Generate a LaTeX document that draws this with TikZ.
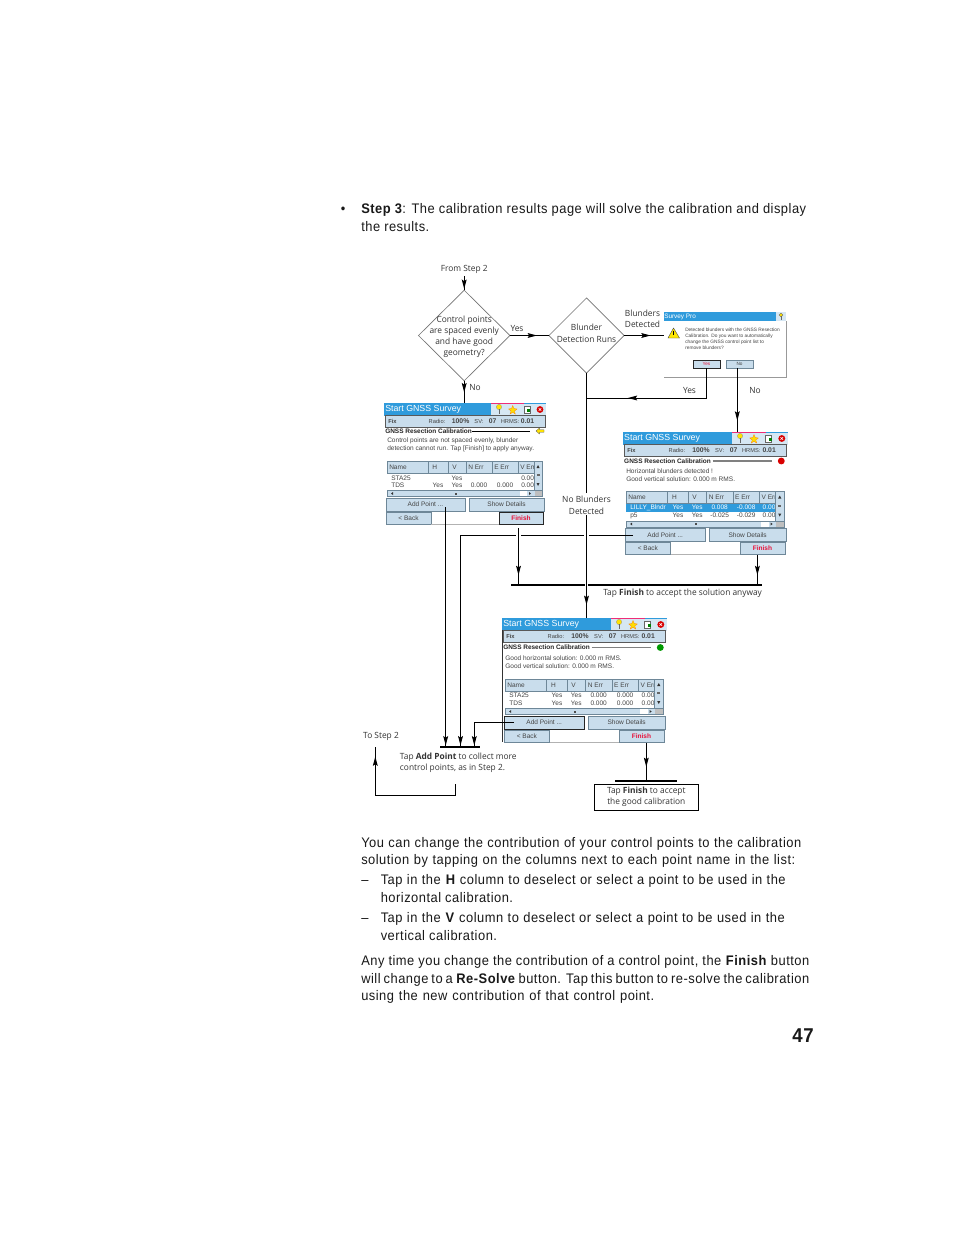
\documentclass[tikz,border=0pt]{standalone}
\usepackage{fontspec}
\setmainfont{Liberation Sans}
\newfontfamily\bodyfam[FakeStretch=0.93,LetterSpace=3.6]{Liberation Sans}
\newfontfamily\diagfam[FakeStretch=0.98]{Open Sans}
\usetikzlibrary{arrows.meta,decorations.markings,shapes.geometric,fit,calc}
\definecolor{tbar}{HTML}{2F9BDC}
\definecolor{tlight}{HTML}{D6E7F3}
\definecolor{btn}{HTML}{C9DDEC}
\definecolor{btnedge}{HTML}{6E8798}
\definecolor{txtg}{HTML}{444444}
\definecolor{finred}{HTML}{E8123A}
\newcommand{\bodyfont}{\bodyfam\fontsize{10.4}{12}\selectfont}
\newcommand{\diagfont}{\diagfam\fontsize{6.4}{8.3}\selectfont}
\newcommand{\scrfont}{\fontsize{4.9}{5.5}\selectfont}
\newcommand{\stfont}{\fontsize{4.3}{5}\selectfont}
\newcommand{\stbold}{\bfseries\fontsize{5.1}{6}\selectfont}
\newcommand{\jline}[2]{\hbox to #1pt{\spaceskip=.3em plus .3em minus .2em\relax #2}}
\tikzset{
  bodyt/.style={anchor=base west,inner sep=0,font=\bodyfont,text=black!90,yshift=-.5pt},
  diagt/.style={inner sep=0,font=\diagfont,text=black!80,align=center,yshift=-.4pt},
  scrt/.style={inner sep=0,font=\scrfont,text=txtg},
  scrl/.style={scrt,anchor=west},
  hdrt/.style={scrl,font=\bfseries\fontsize{4.85}{5.5}\selectfont,text=black!85},
  flow/.style={draw=black,line width=.75pt},
  headat/.style={postaction={decorate},decoration={markings,mark=at position #1 with {\arrow{Stealth[length=7pt,width=3.6pt,inset=1.2pt]}}}},
  halo/.style={preaction={draw=white,line width=4pt}},
  bar/.style={draw=black,line width=1.5pt},
  dia/.style={diamond,draw=black!55,line width=.5pt,inner sep=0,outer sep=0},
  btnbox/.style={draw=btnedge,fill=btn,line width=.5pt,inner sep=0,outer sep=0},
  scrbox/.style={fill=white,inner sep=0,outer sep=0},
  thickedge/.style={draw=black!85,line width=.7pt},
}
\newcommand{\pin}[2]{\fill[yellow!85!orange,draw=black!50,line width=.15pt] (#1,#2-2.5) circle (2pt); \draw[black!60,line width=.5pt] (#1,#2-.5) -- (#1,#2+4.5);}
\newcommand{\gnssscreen}[5]{%
\begin{scope}[shift={(#2,#3)}]
  \node[scrbox,fit={(0,0) (162,#4+63)}] (#1) {};
  \fill[tbar] (0,0) rectangle (162,12.5);
  \fill[tlight] (107,0.8) rectangle (162,12.5);
  \draw[magenta!70!orange,line width=.6pt] (107,0.3) -- (140,0.3);
  \node[scrt,anchor=west,text=white,font=\fontsize{6.6}{8}\selectfont] at (1,6.6) {Start GNSS Survey};
  \pin{115}{6.5}
  \fill[yellow!80!orange,draw=orange,line width=.2pt] (128.7,2.5) -- (130,5.5) -- (133,6) -- (130.5,8) -- (131.3,11) -- (128.7,9.3) -- (126,11) -- (127,8) -- (124.5,6) -- (127.5,5.5) -- cycle;
  \draw[black!60,fill=white,line width=.3pt] (140,3) rectangle (146,10);
  \fill[green!50!black] (143,6) rectangle (146,9);
  \fill[red!85!black] (156,6.5) circle (3.4);
  \draw[white,line width=.4pt] (154.7,5.2) -- (157.3,7.8) (154.7,7.8) -- (157.3,5.2);
  \node[fill=btn,draw=black!65,line width=.6pt,inner sep=0,outer sep=0,fit={(1,12.8) (161,24)}] (#1status) {};
  \node[scrl,font=\bfseries\stfont] at (4,18.4) {Fix};
  \node[scrt,font=\stfont] at (53,18.4) {Radio:};
  \node[scrt,font=\stbold] at (76.6,18.4) {100\%};
  \node[scrt,font=\stfont] at (95,18.4) {SV:};
  \node[scrt,font=\stbold] at (108.7,18.4) {07};
  \node[scrt,font=\stfont] at (126,18.4) {HRMS:};
  \node[scrt,font=\stbold] at (143.6,18.4) {0.01};
  % table
  \fill[white] (3,#4) rectangle (158,#4+35);
  \foreach \a/\b in {3/44,44/64,64/82,82/108,108/134,134/150}
    \draw[fill=btn,draw=btnedge,line width=.4pt] (\a,#4) rectangle (\b,#4+12);
  \node[scrl] at (5,#4+6) {Name};
  \node[scrl] at (48,#4+6) {H};
  \node[scrl] at (68,#4+6) {V};
  \node[scrl] at (84,#4+6) {N Err};
  \node[scrl] at (110,#4+6) {E Err};
  \node[scrl] at (136,#4+6) {V Err};
  #5
  % scroll bars
  \draw[fill=btn,draw=btnedge,line width=.3pt] (150,#4) rectangle (158,#4+29.5);
  \draw[fill=btn,draw=btnedge,line width=.3pt] (3,#4+29.5) rectangle (158,#4+35.5);
  \fill[white] (136,#4+30) rectangle (143,#4+35);
  \fill[black!25] (150.5,#4+30) rectangle (158,#4+35);
  \fill[black!70] (71,#4+31.5) rectangle (73,#4+33.5);
  \fill[black!80] (154,#4+4) -- (152.5,#4+7) -- (155.5,#4+7) -- cycle;
  \fill[black!60] (152.5,#4+13) rectangle (155.5,#4+15);
  \fill[black!80] (154,#4+25) -- (152.5,#4+22) -- (155.5,#4+22) -- cycle;
  \fill[black!80] (7,#4+32.5) -- (9,#4+31) -- (9,#4+34) -- cycle;
  \fill[black!80] (147,#4+32.5) -- (145,#4+31) -- (145,#4+34) -- cycle;
  % buttons
  \node[btnbox,fit={(2,#4+37) (81,#4+50)}] (#1add) {};
  \node[scrt] at (#1add) {Add Point ...};
  \node[btnbox,fit={(85,#4+37) (160,#4+50)}] (#1show) {};
  \node[scrt] at (#1show) {Show Details};
  \node[btnbox,fit={(2,#4+51) (47,#4+63)}] (#1back) {};
  \node[scrt] at (#1back) {< Back};
  \node[btnbox,fit={(115,#4+51) (159,#4+63)}] (#1finish) {};
  \node[scrt,text=finred,font=\bfseries\scrfont] at (#1finish) {Finish};
  \draw[black!30,line width=.3pt] (47,#4+63) -- (115,#4+63);
\end{scope}}
\begin{document}
\begin{tikzpicture}[x=.75pt,y=-.75pt]
\useasboundingbox (0,0) rectangle (954,1235);
\fill[white] (0,0) rectangle (954,1235);
% body text above
\node[bodyt] (bu) at (340.5,212.5) {\textbullet};
\node[bodyt] (t1) at (361,212.5) {\jline{333.7}{\textbf{Step 3}: The calibration results page will solve the calibration and display}};
\node[bodyt] (t2) at (361,230.5) {the results.};

% screens
\begin{scope}[x=.75pt]
\gnssscreen{sa}{384}{403}{58}{%
  \node[hdrt] at (1,28) {GNSS Resection Calibration};
  \draw[black,line width=.5pt] (88,28) -- (146,28);
  \fill[yellow!85!orange,draw=black!70,line width=.2pt] (152,28) -- (155.5,25) -- (155.5,26.8) -- (160,26.8) -- (160,29.2) -- (155.5,29.2) -- (155.5,31) -- cycle;
  \node[scrl] at (3,37.5) {Control points are not spaced evenly, blunder};
  \node[scrl] at (3,46) {detection cannot run. Tap [Finish] to apply anyway.};
  \node[scrl] at (7,58+17) {STA25};
  \node[scrt] at (73,58+17) {Yes};
  \node[scrl] at (137,58+17) {0.00};
  \node[scrl] at (7,58+24.5) {TDS};
  \node[scrt] at (54,58+24.5) {Yes};
  \node[scrt] at (73,58+24.5) {Yes};
  \node[scrt] at (95,58+24.5) {0.000};
  \node[scrt] at (121,58+24.5) {0.000};
  \node[scrl] at (137,58+24.5) {0.00};
}
\end{scope}
\begin{scope}[x=.7636pt]
\gnssscreen{sb}{623/1.0182}{432}{59.5}{%
  \node[hdrt] at (1,29.5) {GNSS Resection Calibration};
  \draw[black!50,line width=1.1pt] (88,29) -- (146,29);
  \fill[red!85!black] (155.5,29) circle (3.4);
  \node[scrl] at (3,39) {Horizontal blunders detected !};
  \node[scrl] at (3,47.5) {Good vertical solution: 0.000 m RMS.};
  \fill[tbar] (3,59.5+12) rectangle (150,59.5+20);
  \node[scrl,text=white] at (7,59.5+16) {LILLY\_Blndr};
  \node[scrt,text=white] at (54,59.5+16) {Yes};
  \node[scrt,text=white] at (73,59.5+16) {Yes};
  \node[scrt,text=white] at (95,59.5+16) {0.008};
  \node[scrt,text=white] at (121,59.5+16) {-0.008};
  \node[scrl,text=white] at (137,59.5+16) {0.00};
  \node[scrl] at (7,59.5+24) {p5};
  \node[scrt] at (54,59.5+24) {Yes};
  \node[scrt] at (73,59.5+24) {Yes};
  \node[scrt] at (95,59.5+24) {-0.025};
  \node[scrt] at (121,59.5+24) {-0.029};
  \node[scrl] at (137,59.5+24) {0.00};
}
\gnssscreen{sc}{502/1.0182}{618}{61}{%
  \node[hdrt] at (1,29.5) {GNSS Resection Calibration};
  \draw[black!50,line width=1.1pt] (88,29.5) -- (146,29.5);
  \fill[green!60!black] (155.5,29.5) circle (3.4);
  \node[scrl] at (3,40) {Good horizontal solution: 0.000 m RMS.};
  \node[scrl] at (3,48.5) {Good vertical solution: 0.000 m RMS.};
  \node[scrl] at (7,61+16.5) {STA25};
  \node[scrt] at (54,61+16.5) {Yes};
  \node[scrt] at (73,61+16.5) {Yes};
  \node[scrt] at (95,61+16.5) {0.000};
  \node[scrt] at (121,61+16.5) {0.000};
  \node[scrl] at (137,61+16.5) {0.00};
  \node[scrl] at (7,61+24.5) {TDS};
  \node[scrt] at (54,61+24.5) {Yes};
  \node[scrt] at (73,61+24.5) {Yes};
  \node[scrt] at (95,61+24.5) {0.000};
  \node[scrt] at (121,61+24.5) {0.000};
  \node[scrl] at (137,61+24.5) {0.00};
}
\end{scope}
\draw[thickedge] (safinish.north west) rectangle (safinish.south east);
\draw[thickedge] (scadd.north west) rectangle (scadd.south east);
\draw[black!80,line width=.6pt] (sc.north west) ++(0,12) -- (sc.south west);

% dialog
\node[scrbox,fit={(664,312) (786,377)}] (dlg) {};
\fill[tbar] (664,312) rectangle (776,321);
\fill[tlight] (776,312) rectangle (786,321);
\node[scrt,anchor=west,text=white,font=\fontsize{4.8}{6}\selectfont] (dlgt) at (664,316.5) {Survey Pro};
\fill[yellow!85!orange,draw=black!60,line width=.25pt] (781,315) circle (1.8);
\draw[black!60,line width=.4pt] (781,316) -- (781,319.5);
\draw[black!40,line width=.4pt] (664,377) -- (786,377) -- (786,321);
\fill[yellow!90!orange,draw=black!70,line width=.3pt] (673.5,328) -- (668,338) -- (679.5,338) -- cycle;
\draw[black,line width=.6pt] (673.6,331) -- (673.6,335);
\node[scrl,font=\fontsize{3.6}{5}\selectfont] (dl1) at (685,329.6) {Detected blunders with the GNSS Resection};
\node[scrl,font=\fontsize{3.6}{5}\selectfont] (dl2) at (685,335.8) {Calibration. Do you want to automatically};
\node[scrl,font=\fontsize{3.6}{5}\selectfont] (dl3) at (685,342) {change the GNSS control point list to};
\node[scrl,font=\fontsize{3.6}{5}\selectfont] (dl4) at (685,348.2) {remove blunders?};
\node[btnbox,fit={(693,360) (720,368)},thickedge] (dyes) {};
\node[scrt,text=finred,font=\fontsize{3.5}{5}\selectfont] at (dyes) {Yes};
\node[btnbox,fit={(726,360) (753,368)}] (dno) {};
\node[scrt,font=\fontsize{3.5}{5}\selectfont] at (dno) {No};

% diamonds and labels
\node[dia,minimum width=68.6pt,minimum height=67.9pt] (da) at (464.2,335.5) {};
\node[diagt] (dat) at (464.2,336.5) {Control points\\are spaced evenly\\and have good\\geometry?};
\node[dia,minimum width=56.3pt,minimum height=56.3pt] (db) at (586.5,335.5) {};
\node[diagt] (dbt) at (586.5,333) {Blunder\\[.7pt]Detection Runs};
\node[diagt] (from) at (464.2,269) {From Step 2};
\node[diagt] (la1) at (517,328) {Yes};
\node[diagt] (la2) at (475,387) {No};
\node[diagt] (la3) at (642.5,318.5) {Blunders\\Detected};
\node[diagt] (la4) at (689.5,390) {Yes};
\node[diagt] (la5) at (755,390) {No};
\node[diagt] (nobl) at (586.5,505) {No Blunders\\[.7pt]Detected};
\node[diagt] (tostep) at (381,736) {To Step 2};
\node[diagt,anchor=west,align=left] (tapadd) at (399.7,762.5) {Tap \textbf{Add Point} to collect more\\control points, as in Step 2.};
\node[diagt,anchor=west] (tapany) at (603,593) {Tap \textbf{Finish} to accept the solution anyway};
\node[draw=black,line width=.75pt,minimum width=78pt,minimum height=19.5pt,inner sep=0,outer sep=0] (tapgood) at (646.3,797.3) {};
\node[diagt,yshift=.5pt] at (tapgood) {Tap \textbf{Finish} to accept\\the good calibration};

% named free ends
\coordinate (jn) at (586.5,398);
\coordinate (ha) at (518.5,528);
\coordinate (hz) at (518.5,584.5);
\coordinate (fb) at (757.4,555);
\coordinate (fz) at (757.4,584.5);
\coordinate (bl) at (511,584.5);
\coordinate (bm) at (585.2,584.5);
\coordinate (bn) at (587.9,584.5);
\coordinate (br) at (761.7,584.5);
\coordinate (pa) at (445.7,507);
\coordinate (pz) at (445.7,746.5);
\coordinate (qa) at (633,535);
\coordinate (qb) at (460.5,535);
\coordinate (qz) at (460.5,746.5);
\coordinate (ra) at (514,722);
\coordinate (rb) at (474.3,722);
\coordinate (rz) at (474.3,746.5);
\coordinate (ll) at (440,746.8);
\coordinate (lr) at (480,746.8);
\coordinate (fc) at (646.3,743);
\coordinate (fd) at (646.3,781);
\coordinate (gl) at (615,781);
\coordinate (gr) at (676.7,781);
\coordinate (ua) at (455.5,784);
\coordinate (ub) at (455.5,795.4);
\coordinate (uc) at (375.3,795.4);
\coordinate (ud) at (375.3,746.5);

% connectors
\draw[flow,headat=-1pt] (from.south) ++(0,2) -- (da.north);
\draw[flow,headat=-9pt] (da.east) -- (db.west);
\draw[flow,headat=-10pt] (db.east) -- (db.east -| dlg.west);
\draw[flow,headat=-8pt] (da.south) -- (da.south |- sa.north);
\draw[flow,headat=-8.5pt] (dno.south -| 737.3,0) -- (737.3,0 |- sb.north);
\draw[flow,headat=-31pt] (dyes.south) |- (jn);
\draw[flow,shorten >=2pt] (db.south) -- (nobl.north);
\draw[flow] (qa) -- (qb) -- (qz);
\draw[flow,halo] (ha) -- (hz);
\draw[flow,halo,headat=-9.75pt] (nobl.south) -- (nobl.south |- sc.north);
\draw[flow,headat=-7pt] (ha) -- (hz);
\draw[flow,headat=-7pt] (fb) -- (fz);
\draw[bar] (bl) -- (bm);
\draw[bar] (bn) -- (br);
\draw[flow,headat=-.8pt] (pa) -- (pz);
\draw[flow,headat=-.8pt] (qb) -- (qz);
\draw[flow,headat=-.8pt] (ra) -- (rb) -- (rz);
\draw[bar] (ll) -- (lr);
\draw[flow,headat=-10.5pt] (fc) -- (fd);
\draw[bar] (gl) -- (gr);
\draw[flow,headat=-7.5pt] (ua) -- (ub) -- (uc) -- (ud);

% body text below
\node[bodyt] at (361,846.5) {\jline{330}{You can change the contribution of your control points to the calibration}};
\node[bodyt] at (361,864) {\jline{325.5}{solution by tapping on the columns next to each point name in the list:}};
\node[bodyt] at (361,884) {–};
\node[bodyt] at (380.5,884) {\jline{303.7}{Tap in the \textbf{H} column to deselect or select a point to be used in the}};
\node[bodyt] at (380.5,902) {horizontal calibration.};
\node[bodyt] at (361,922) {–};
\node[bodyt] at (380.5,922) {\jline{303}{Tap in the \textbf{V} column to deselect or select a point to be used in the}};
\node[bodyt] at (380.5,940) {vertical calibration.};
\node[bodyt] at (361,965) {\jline{336}{Any time you change the contribution of a control point, the \textbf{Finish} button}};
\node[bodyt] at (361,983) {\jline{336}{will change to a \textbf{Re-Solve} button. Tap this button to re-solve the calibration}};
\node[bodyt] at (361,1000) {\jline{219.7}{using the new contribution of that control point.}};
\node[bodyt,font=\bodyfam\bfseries\fontsize{15}{18}\selectfont] at (792,1042) {47};
\end{tikzpicture}
\end{document}
